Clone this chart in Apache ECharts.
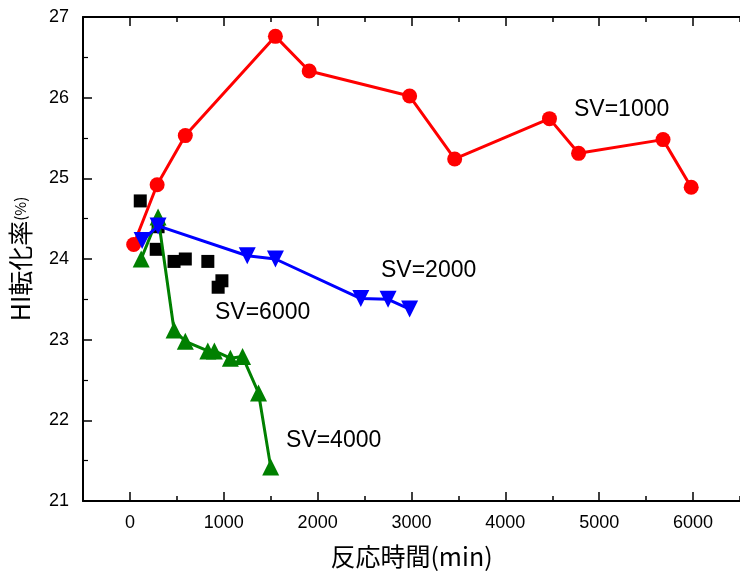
<!DOCTYPE html>
<html>
<head>
<meta charset="utf-8">
<script src="https://cdn.jsdelivr.net/npm/echarts@6/dist/echarts.min.js"></script>
<style>html,body{margin:0;padding:0;background:#fff}#c{width:740px;height:574px}</style>
</head>
<body>
<div id="c"></div>
<script>
// SV=1000 (red circles)
const sv1000X = [40, 290, 590, 1550, 1910, 2980, 3460, 4470, 4780, 5680, 5980];
const sv1000Y = [24.18, 24.92, 25.53, 26.76, 26.33, 26.02, 25.24, 25.74, 25.31, 25.48, 24.89];
// SV=2000 (blue down triangles)
const sv2000X = [130, 300, 1250, 1550, 2460, 2750, 2980];
const sv2000Y = [24.23, 24.41, 24.04, 24.00, 23.51, 23.50, 23.38];
// SV=4000 (green up triangles)
const sv4000X = [120, 300, 470, 590, 830, 900, 1070, 1200, 1370, 1500];
const sv4000Y = [24.00, 24.52, 23.12, 22.98, 22.86, 22.86, 22.77, 22.79, 22.34, 21.42];
// SV=6000 (black squares)
const sv6000X = [110, 280, 300, 470, 590, 830, 980, 940];
const sv6000Y = [24.72, 24.12, 24.40, 23.97, 24.00, 23.97, 23.73, 23.65];

const xMin = -500, xMax = 6500, xStep = 500;
const xMajorTicks = [0, 1000, 2000, 3000, 4000, 5000, 6000];
const yMin = 21, yMax = 27, yStep = 1;
const labelTexts = ['SV=1000', 'SV=2000', 'SV=6000', 'SV=4000'];

const zip = (xs, ys) => xs.map((x, i) => [x, ys[i]]);
const font = '"Liberation Sans", Arial, sans-serif';
const cjk = '"Noto Sans CJK JP", "Liberation Sans", sans-serif';

const chart = echarts.init(document.getElementById('c'));
const axisLineStyle = {color: '#000', width: 2};
const tickStyle = {color: '#000', width: 1.5};

function xAx(pos, major, withLabel) {
  const ax = {
    type: 'value', position: pos, min: xMin, max: xMax, interval: xStep,
    axisLine: {show: major, onZero: false, lineStyle: axisLineStyle},
    axisTick: {show: true, inside: true, length: major ? 9 : 5, lineStyle: tickStyle},
    splitLine: {show: false},
    axisLabel: {show: false}
  };
  if (major) ax.axisTick.customValues = xMajorTicks;
  if (withLabel) {
    ax.axisLabel = {show: true, color: '#000', fontSize: 18, fontFamily: font, margin: 13,
      customValues: xMajorTicks, formatter: v => String(v)};
    ax.name = '反応時間(min)';
    ax.nameLocation = 'middle';
    ax.nameGap = 43;
    ax.nameTextStyle = {color: '#000', fontSize: 25, fontFamily: cjk};
  }
  return ax;
}

chart.setOption({
  animation: false,
  backgroundColor: '#fff',
  grid: {left: 82, top: 17, bottom: 72, right: -3, containLabel: false},
  xAxis: [xAx('bottom', true, true), xAx('bottom', false, false), xAx('top', true, false), xAx('top', false, false)],
  yAxis: {
    type: 'value', min: yMin, max: yMax, interval: yStep,
    axisLine: {show: true, onZero: false, lineStyle: axisLineStyle},
    axisTick: {show: true, inside: true, length: 9, lineStyle: tickStyle},
    minorTick: {show: true, splitNumber: 2, length: 5, lineStyle: {color: '#000', width: 1.2}},
    splitLine: {show: false},
    axisLabel: {color: '#000', fontSize: 18, fontFamily: font, margin: 14},
    name: '{a|HI転化率}{b|(%)}', nameLocation: 'middle', nameGap: 50, nameRotate: 90,
    nameTextStyle: {
      color: '#000',
      rich: {
        a: {fontSize: 25, fontFamily: cjk, color: '#000'},
        b: {fontSize: 15, fontFamily: cjk, color: '#000'}
      }
    }
  },
  series: [
    {
      type: 'scatter', name: 'SV=6000', data: zip(sv6000X, sv6000Y),
      symbol: 'rect', symbolSize: 13, itemStyle: {color: '#000', opacity: 1}, z: 1
    },
    {
      type: 'line', name: 'SV=1000', data: zip(sv1000X, sv1000Y),
      symbol: 'circle', symbolSize: 15, showAllSymbol: true,
      lineStyle: {color: '#ff0000', width: 3}, itemStyle: {color: '#ff0000'}, z: 2
    },
    {
      type: 'line', name: 'SV=4000', data: zip(sv4000X, sv4000Y),
      symbol: 'triangle', symbolSize: 17, showAllSymbol: true,
      lineStyle: {color: '#008000', width: 3}, itemStyle: {color: '#008000'}, z: 3
    },
    {
      type: 'line', name: 'SV=2000', data: zip(sv2000X, sv2000Y),
      symbol: 'triangle', symbolRotate: 180, symbolSize: 17, showAllSymbol: true,
      lineStyle: {color: '#0000ff', width: 3}, itemStyle: {color: '#0000ff'}, z: 4
    }
  ],
  graphic: [
    {type: 'text', left: 574, top: 98, style: {text: labelTexts[0], fontSize: 23, fontFamily: font, fill: '#000'}},
    {type: 'text', left: 381, top: 259, style: {text: labelTexts[1], fontSize: 23, fontFamily: font, fill: '#000'}},
    {type: 'text', left: 215, top: 301, style: {text: labelTexts[2], fontSize: 23, fontFamily: font, fill: '#000'}},
    {type: 'text', left: 286, top: 429, style: {text: labelTexts[3], fontSize: 23, fontFamily: font, fill: '#000'}}
  ]
});
</script>
</body>
</html>
